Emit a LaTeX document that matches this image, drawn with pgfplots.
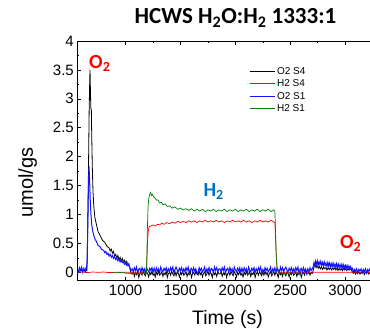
\documentclass[border=0pt]{standalone}
\usepackage{fontspec}
\setmainfont{Liberation Sans}
\newfontfamily\calibri{Carlito}
\usepackage{pgfplots}
\pgfplotsset{compat=1.18}
\definecolor{lblue}{RGB}{20,20,255}
\definecolor{lgreen}{RGB}{0,128,0}
\definecolor{lred}{RGB}{255,0,0}
\definecolor{annblue}{RGB}{0,112,192}
\begin{document}
\begin{tikzpicture}
\begin{axis}[
  scale only axis,
  width=295.3pt, height=239.7pt,
  xmin=560, xmax=3250, ymin=-0.145, ymax=4,
  xtick={1000,1500,2000,2500,3000},
  ytick={0,0.5,1,1.5,2,2.5,3,3.5,4},
  yticklabels={0,0.5,1,1.5,2,2.5,3,3.5,4},
  minor x tick num=1, minor y tick num=1,
  tick align=inside,
  ytick pos=left,
  major tick length=4pt, minor tick length=2pt,
  /pgf/number format/assume math mode=true,
  /pgf/number format/1000 sep={},
  tick label style={font=\fontsize{15}{15}\selectfont},
  xticklabel style={yshift=-1pt},
  xlabel={Time (s)},
  xlabel style={font=\fontsize{19.5}{19.5}\selectfont, at={(axis description cs:0.509,0)}, anchor=base, yshift=-43.6pt},
  axis line style={line width=0.8pt},
  every tick/.style={black, line width=0.6pt},
  legend cell align=left,
  legend style={draw=none, fill=none, at={(axis description cs:0.581,0.9)}, anchor=north west,
    font=\fontsize{10}{10}\selectfont, row sep=0pt, inner sep=0pt},
  legend image code/.code={\draw[#1, line width=1pt] (0pt,0pt) -- (25pt,0pt);},
]
% O2 S4 (black)
\addplot[black, line width=0.8pt] coordinates {
(560,0.03)(575,0.01)(590,0.04)(605,0.02)(620,0.04)(635,0.01)(645,0.04)
(650,0.2)(655,0.8)(662,1.8)(668,2.8)(673,3.3)(676,3.5)(679,3.2)(683,2.85)(688,2.8)(692,2.3)(697,1.8)(703,1.4)
(710,1.15)(720,0.95)(735,0.82)(750,0.7)(770,0.63)(790,0.55)(810,0.52)(830,0.45)(850,0.42)(860,0.37)(870,0.4)(880,0.33)(890,0.36)
(900,0.28)(910,0.31)(920,0.25)(930,0.29)(940,0.22)(950,0.26)(960,0.19)(970,0.24)(980,0.17)(990,0.21)(1000,0.15)(1010,0.19)(1020,0.12)(1030,0.15)(1040,0.06)(1050,-0.02)
(1060,-0.03)(1070,0.01)(1080,-0.07)(1090,-0.01)(1100,-0.04)(1110,0.02)(1120,-0.09)(1130,-0.02)(1140,0.0)(1150,-0.05)
(1160,0.02)(1170,-0.03)(1180,-0.06)(1190,0.01)(1200,-0.02)(1210,-0.08)(1220,0.0)(1230,-0.04)(1240,0.02)(1250,-0.05)
(1260,-0.02)(1270,-0.08)(1280,0.0)(1290,-0.04)(1300,0.02)(1310,-0.05)(1320,-0.03)(1330,0.01)(1340,-0.07)(1350,-0.01)
(1360,-0.04)(1370,0.02)(1380,-0.09)(1390,-0.02)(1400,0.0)(1410,-0.05)(1420,0.02)(1430,-0.03)(1440,-0.06)(1450,0.01)
(1460,-0.06)(1470,0.01)(1480,-0.02)(1490,-0.08)(1500,0.0)(1510,-0.04)(1520,0.02)(1530,-0.05)(1540,-0.03)(1550,0.01)
(1560,-0.07)(1570,-0.01)(1580,-0.04)(1590,0.02)(1600,-0.09)(1610,-0.02)(1620,0.0)(1630,-0.05)(1640,0.02)(1650,-0.03)
(1660,-0.05)(1670,0.02)(1680,-0.04)(1690,0.0)(1700,-0.08)(1710,-0.02)(1720,0.01)(1730,-0.06)(1740,-0.03)(1750,0.02)
(1760,-0.05)(1770,0.0)(1780,-0.02)(1790,-0.09)(1800,0.02)(1810,-0.04)(1820,-0.01)(1830,-0.07)(1840,0.01)(1850,-0.03)
(1860,-0.03)(1870,0.01)(1880,-0.07)(1890,-0.01)(1900,-0.04)(1910,0.02)(1920,-0.09)(1930,-0.02)(1940,0.0)(1950,-0.05)
(1960,0.02)(1970,-0.03)(1980,-0.06)(1990,0.01)(2000,-0.02)(2010,-0.08)(2020,0.0)(2030,-0.04)(2040,0.02)(2050,-0.05)
(2060,-0.02)(2070,-0.08)(2080,0.0)(2090,-0.04)(2100,0.02)(2110,-0.05)(2120,-0.03)(2130,0.01)(2140,-0.07)(2150,-0.01)
(2160,-0.04)(2170,0.02)(2180,-0.09)(2190,-0.02)(2200,0.0)(2210,-0.05)(2220,0.02)(2230,-0.03)(2240,-0.06)(2250,0.01)
(2260,-0.05)(2270,0.02)(2280,-0.04)(2290,0.0)(2300,-0.08)(2310,-0.02)(2320,0.01)(2330,-0.06)(2340,-0.03)(2350,0.02)
(2360,-0.05)(2370,0.0)(2380,-0.02)(2390,-0.09)(2400,0.02)(2410,-0.04)(2420,-0.01)(2430,-0.07)(2440,0.01)(2450,-0.03)
(2460,-0.06)(2470,0.01)(2480,-0.02)(2490,-0.08)(2500,0.0)(2510,-0.04)(2520,0.02)(2530,-0.05)(2540,-0.03)(2550,0.01)
(2560,-0.07)(2570,-0.01)(2580,-0.04)(2590,0.02)(2600,-0.09)(2610,-0.02)(2620,0.0)(2630,-0.05)(2640,0.02)(2650,-0.03)
(2660,-0.03)(2670,0.01)(2680,-0.05)(2690,0.0)(2700,-0.02)
(2710,0.04)(2718,0.11)(2725,0.13)(2735,0.08)(2745,0.11)(2755,0.07)(2765,0.1)(2775,0.06)(2785,0.09)(2795,0.05)
(2805,0.09)(2815,0.06)(2825,0.08)(2835,0.04)(2845,0.08)(2855,0.05)(2865,0.08)(2875,0.04)(2885,0.07)(2895,0.05)
(2905,0.08)(2915,0.04)(2925,0.07)(2935,0.03)(2945,0.07)(2955,0.04)(2965,0.06)(2975,0.03)(2985,0.07)(2995,0.04)
(3005,0.06)(3015,0.03)(3025,0.06)(3035,0.04)(3045,0.06)(3055,0.04)(3065,0.01)(3075,-0.02)(3085,0.01)(3095,-0.03)
(3105,0.0)(3115,-0.02)(3125,0.01)(3135,-0.03)(3145,0.0)(3155,-0.02)(3165,0.01)(3175,-0.04)(3185,0.0)(3195,-0.02)
(3205,0.01)(3215,-0.03)(3225,0.0)(3235,-0.02)(3250,0.0)
};
\addlegendentry{O2 S4}
% H2 S4 (red)
\addplot[lred, line width=0.7pt] coordinates {
(560,0.0)(600,0.005)(650,-0.005)(700,0.005)(750,0.0)(800,0.005)(850,-0.005)(900,0.0)(1000,0.0)(1100,0.0)(1190,0.0)
(1195,0.25)(1200,0.55)(1207,0.72)(1215,0.79)(1230,0.8)(1250,0.82)(1270,0.8)(1290,0.83)(1310,0.82)(1330,0.85)
(1350,0.83)(1375,0.86)(1400,0.84)(1425,0.87)(1450,0.85)(1475,0.88)(1500,0.86)(1525,0.88)(1550,0.86)(1575,0.89)
(1600,0.87)(1625,0.89)(1650,0.86)(1675,0.89)(1700,0.87)(1725,0.9)(1750,0.87)(1775,0.89)(1800,0.87)(1825,0.9)
(1850,0.87)(1875,0.89)(1900,0.86)(1925,0.89)(1950,0.87)(1975,0.9)(2000,0.87)(2025,0.89)(2050,0.87)(2075,0.9)
(2100,0.87)(2125,0.89)(2150,0.86)(2175,0.89)(2200,0.87)(2225,0.9)(2250,0.87)(2275,0.89)(2300,0.87)(2325,0.9)
(2350,0.87)(2360,0.86)(2366,0.6)(2372,0.3)(2380,0.05)(2390,0.0)(2500,0.0)(2700,0.0)(2900,0.0)(3100,0.0)(3250,0.0)
};
\addlegendentry{H2 S4}
% O2 S1 (blue)
\addplot[lblue, line width=1pt] coordinates {
(560,0.06)(570,0.01)(580,0.08)(590,0.03)(600,0.09)(610,0.0)(620,0.07)(630,0.02)(640,0.08)(647,0.05)
(652,0.4)(658,1.1)(663,1.6)(667,1.83)(672,1.6)(678,1.25)(685,0.98)(692,0.82)(700,0.72)(710,0.64)(720,0.58)
(735,0.53)(750,0.46)(765,0.45)(780,0.4)(800,0.38)(810,0.34)(820,0.36)(830,0.31)(840,0.33)(850,0.28)(860,0.31)(870,0.26)(880,0.29)(890,0.24)(900,0.27)
(910,0.22)(920,0.25)(930,0.2)(940,0.23)(950,0.18)(960,0.21)(970,0.17)(980,0.19)(990,0.14)(1000,0.17)(1010,0.12)(1020,0.15)(1030,0.11)(1040,0.08)(1050,0.03)
(1060,0.06)(1070,0.01)(1080,0.08)(1090,0.03)(1100,0.09)(1110,-0.01)(1120,0.05)(1130,0.07)(1140,0.0)(1150,0.08)
(1160,0.02)(1170,0.06)(1180,-0.02)(1190,0.09)(1200,0.04)(1210,0.01)(1220,0.07)(1230,0.03)(1240,0.08)(1250,0.0)
(1260,0.07)(1270,0.0)(1280,0.08)(1290,0.02)(1300,0.06)(1310,-0.02)(1320,0.09)(1330,0.04)(1340,0.01)(1350,0.07)
(1360,0.03)(1370,0.08)(1380,0.0)(1390,0.06)(1400,0.01)(1410,0.08)(1420,0.03)(1430,0.09)(1440,-0.01)(1450,0.05)
(1460,0.09)(1470,0.04)(1480,0.01)(1490,0.07)(1500,0.03)(1510,0.08)(1520,0.0)(1530,0.06)(1540,0.01)(1550,0.08)
(1560,0.03)(1570,0.09)(1580,-0.01)(1590,0.05)(1600,0.07)(1610,0.0)(1620,0.08)(1630,0.02)(1640,0.06)(1650,-0.02)
(1660,0.0)(1670,0.08)(1680,0.03)(1690,0.07)(1700,0.01)(1710,0.04)(1720,0.09)(1730,-0.02)(1740,0.06)(1750,0.02)
(1760,0.08)(1770,0.0)(1780,0.07)(1790,0.05)(1800,-0.01)(1810,0.09)(1820,0.03)(1830,0.08)(1840,0.01)(1850,0.06)
(1860,0.06)(1870,0.01)(1880,0.08)(1890,0.03)(1900,0.09)(1910,-0.01)(1920,0.05)(1930,0.07)(1940,0.0)(1950,0.08)
(1960,0.02)(1970,0.06)(1980,-0.02)(1990,0.09)(2000,0.04)(2010,0.01)(2020,0.07)(2030,0.03)(2040,0.08)(2050,0.0)
(2060,0.07)(2070,0.0)(2080,0.08)(2090,0.02)(2100,0.06)(2110,-0.02)(2120,0.09)(2130,0.04)(2140,0.01)(2150,0.07)
(2160,0.03)(2170,0.08)(2180,0.0)(2190,0.06)(2200,0.01)(2210,0.08)(2220,0.03)(2230,0.09)(2240,-0.01)(2250,0.05)
(2260,0.0)(2270,0.08)(2280,0.03)(2290,0.07)(2300,0.01)(2310,0.04)(2320,0.09)(2330,-0.02)(2340,0.06)(2350,0.02)
(2360,0.08)(2370,0.0)(2380,0.07)(2390,0.05)(2400,-0.01)(2410,0.09)(2420,0.03)(2430,0.08)(2440,0.01)(2450,0.06)
(2460,0.09)(2470,0.04)(2480,0.01)(2490,0.07)(2500,0.03)(2510,0.08)(2520,0.0)(2530,0.06)(2540,0.01)(2550,0.08)
(2560,0.03)(2570,0.09)(2580,-0.01)(2590,0.05)(2600,0.07)(2610,0.0)(2620,0.08)(2630,0.02)(2640,0.06)(2650,-0.02)
(2660,0.06)(2670,0.01)(2680,0.08)(2690,0.03)(2700,0.06)
(2708,0.09)(2715,0.16)(2722,0.12)(2730,0.19)(2738,0.13)(2746,0.2)(2754,0.12)(2762,0.18)(2770,0.13)(2778,0.19)
(2786,0.12)(2794,0.17)(2802,0.11)(2810,0.18)(2818,0.12)(2826,0.16)(2834,0.1)(2842,0.17)(2850,0.11)(2858,0.16)
(2866,0.1)(2874,0.15)(2882,0.09)(2890,0.16)(2898,0.1)(2906,0.14)(2914,0.09)(2922,0.15)(2930,0.08)(2938,0.14)
(2946,0.09)(2954,0.13)(2962,0.07)(2970,0.14)(2978,0.08)(2986,0.13)(2994,0.07)(3002,0.12)(3010,0.07)(3018,0.12)
(3026,0.06)(3034,0.11)(3042,0.06)(3050,0.1)(3058,0.05)(3066,0.07)(3075,0.0)(3085,0.05)(3095,0.01)(3105,0.06)
(3115,-0.01)(3125,0.05)(3135,0.02)(3145,0.06)(3155,0.0)(3165,0.05)(3175,0.01)(3185,0.06)(3195,-0.01)(3205,0.05)
(3215,0.02)(3225,0.06)(3235,0.0)(3250,0.04)
};
\addlegendentry{O2 S1}
% H2 S1 (green)
\addplot[lgreen, line width=0.7pt] coordinates {
(880,0.0)(920,-0.01)(960,0.0)(1000,-0.015)(1050,-0.02)(1100,-0.015)(1150,-0.02)(1190,-0.015)
(1194,0.3)(1199,0.8)(1205,1.15)(1212,1.28)(1220,1.35)(1228,1.38)(1236,1.33)(1245,1.35)(1255,1.3)(1265,1.29)
(1280,1.25)(1295,1.25)(1310,1.2)(1325,1.21)(1340,1.17)(1360,1.18)(1380,1.14)(1400,1.15)(1425,1.11)(1450,1.13)
(1475,1.09)(1500,1.11)(1525,1.08)(1550,1.1)(1575,1.07)(1600,1.1)(1625,1.06)(1650,1.09)(1675,1.06)(1700,1.09)
(1725,1.05)(1750,1.08)(1775,1.06)(1800,1.09)(1825,1.05)(1850,1.08)(1875,1.06)(1900,1.09)(1925,1.05)(1950,1.08)
(1975,1.06)(2000,1.09)(2025,1.05)(2050,1.08)(2075,1.06)(2100,1.09)(2125,1.05)(2150,1.08)(2175,1.06)(2200,1.09)
(2225,1.05)(2250,1.08)(2275,1.06)(2300,1.09)(2325,1.05)(2350,1.08)(2360,1.05)(2366,0.7)(2372,0.3)(2380,0.08)
(2390,0.02)(2400,-0.01)(2450,-0.02)(2500,-0.01)(2550,-0.02)(2600,-0.01)
};
\addlegendentry{H2 S1}
\node[anchor=base west, inner sep=0pt, text=lred, font=\calibri\bfseries\fontsize{20}{20}\selectfont] at (axis cs:667,3.53) {O\textsubscript{2}};
\node[anchor=base west, inner sep=0pt, text=annblue, font=\calibri\bfseries\fontsize{20}{20}\selectfont] at (axis cs:1708,1.31) {H\textsubscript{2}};
\node[anchor=base west, inner sep=0pt, text=lred, font=\calibri\bfseries\fontsize{20}{20}\selectfont] at (axis cs:2953,0.415) {O\textsubscript{2}};
\end{axis}
\node[anchor=base, inner sep=0pt, font=\calibri\bfseries\fontsize{23}{23}\selectfont] at ([xshift=158.2pt,yshift=17.7pt]current axis.north west) {HCWS H\textsubscript{2}O:H\textsubscript{2} 1333:1};
\node[rotate=90, anchor=south, inner sep=0pt, font=\fontsize{20}{20}\selectfont] at ([xshift=-40pt,yshift=98pt]current axis.south west) {umol/gs};
\pgfresetboundingbox
\path[use as bounding box] ([xshift=-77.3pt,yshift=-48.3pt]current axis.south west) rectangle ++(370pt,329pt);
\end{tikzpicture}
\end{document}
